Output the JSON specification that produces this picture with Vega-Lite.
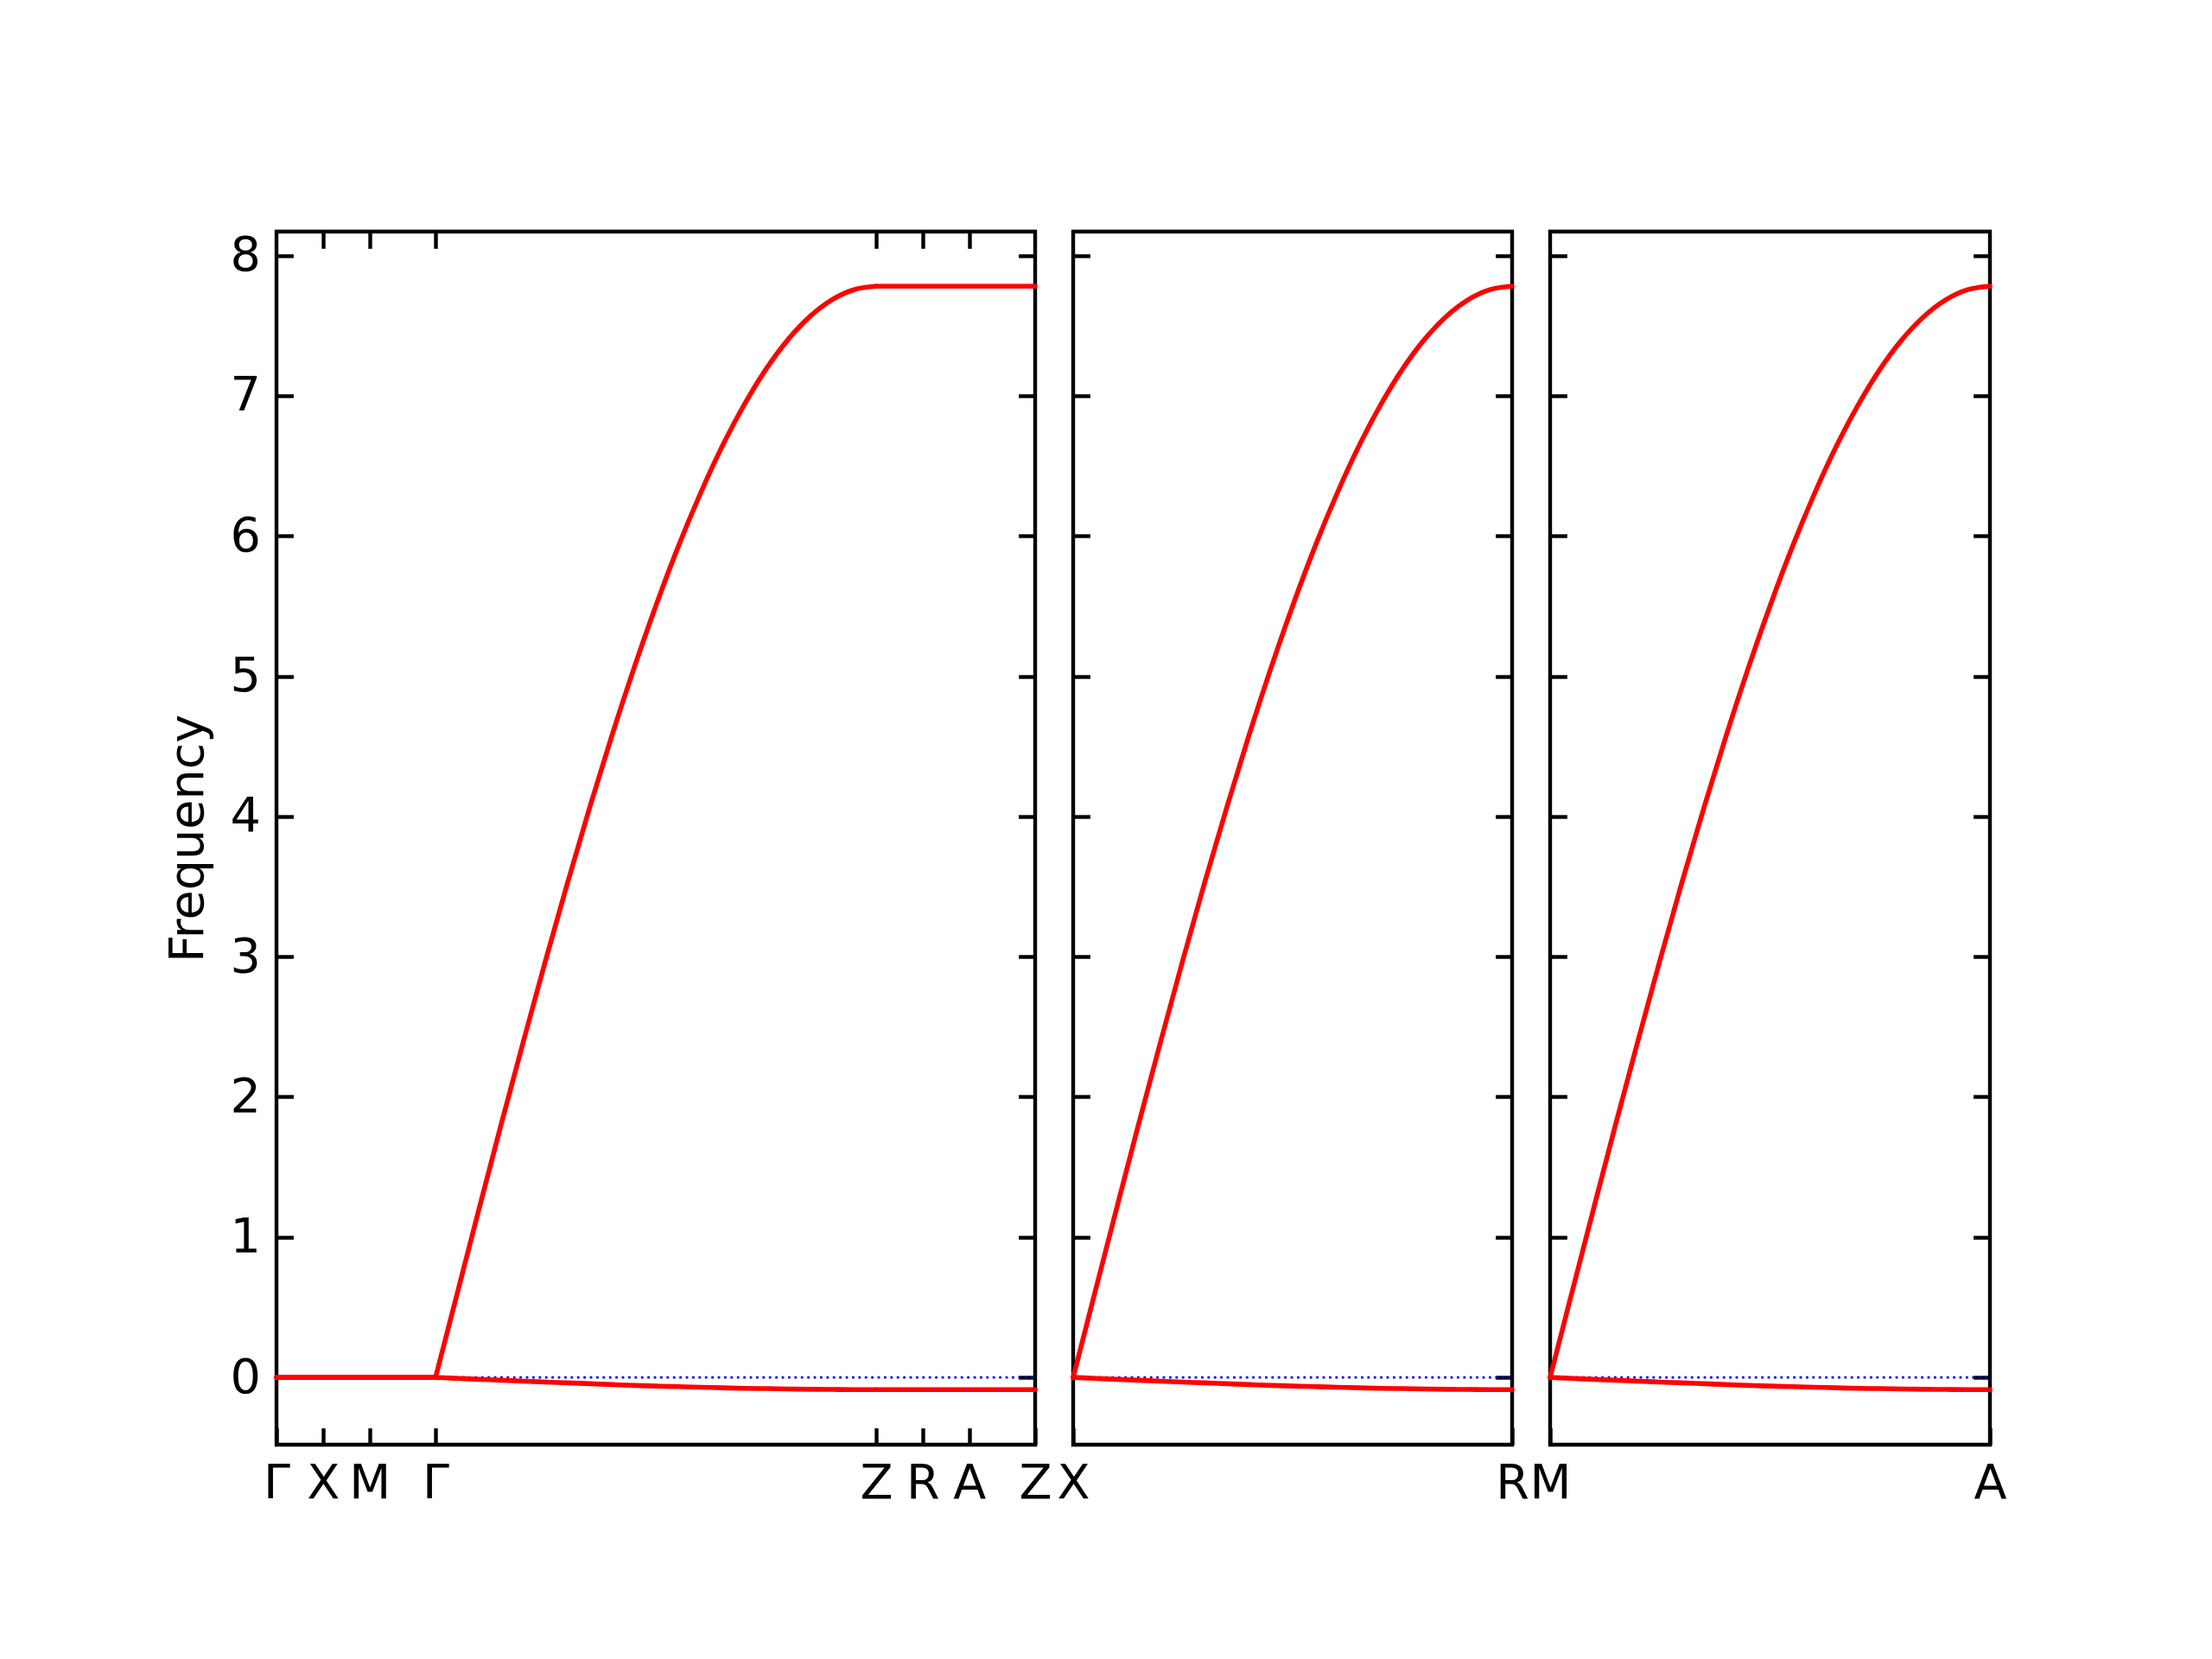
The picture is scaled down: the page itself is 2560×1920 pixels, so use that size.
{
"$schema": "https://vega.github.io/schema/vega-lite/v6.json",
"background": "white",
"padding": {"left": 187, "top": 263, "right": 10, "bottom": 10},
"bounds": "flush",
"spacing": 44,
"datasets": {
"p1": [
{"band":"zero","seg":"all","x":0,"y":0},{"band":"zero","seg":"all","x":8.142,"y":0},
{"band":"upper","seg":"a","x":0,"y":0},{"band":"upper","seg":"a","x":0.5,"y":0},{"band":"upper","seg":"a","x":1.0,"y":0},{"band":"upper","seg":"a","x":1.707,"y":0},
{"band":"upper","seg":"b","x":1.707,"y":0},{"band":"upper","seg":"b","x":1.944,"y":0.610},{"band":"upper","seg":"b","x":2.180,"y":1.217},{"band":"upper","seg":"b","x":2.416,"y":1.816},{"band":"upper","seg":"b","x":2.653,"y":2.404},{"band":"upper","seg":"b","x":2.889,"y":2.977},{"band":"upper","seg":"b","x":3.126,"y":3.532},{"band":"upper","seg":"b","x":3.362,"y":4.065},{"band":"upper","seg":"b","x":3.598,"y":4.573},{"band":"upper","seg":"b","x":3.835,"y":5.053},{"band":"upper","seg":"b","x":4.071,"y":5.501},{"band":"upper","seg":"b","x":4.307,"y":5.916},{"band":"upper","seg":"b","x":4.544,"y":6.294},{"band":"upper","seg":"b","x":4.780,"y":6.634},{"band":"upper","seg":"b","x":5.017,"y":6.932},{"band":"upper","seg":"b","x":5.253,"y":7.188},{"band":"upper","seg":"b","x":5.489,"y":7.399},{"band":"upper","seg":"b","x":5.726,"y":7.565},{"band":"upper","seg":"b","x":5.962,"y":7.684},{"band":"upper","seg":"b","x":6.199,"y":7.756},{"band":"upper","seg":"b","x":6.435,"y":7.780},
{"band":"upper","seg":"c","x":6.435,"y":7.780},{"band":"upper","seg":"c","x":6.935,"y":7.780},{"band":"upper","seg":"c","x":7.435,"y":7.780},{"band":"upper","seg":"c","x":8.142,"y":7.780},
{"band":"lower","seg":"a","x":0,"y":0},{"band":"lower","seg":"a","x":0.5,"y":0},{"band":"lower","seg":"a","x":1.0,"y":0},{"band":"lower","seg":"a","x":1.707,"y":0},
{"band":"lower","seg":"b","x":1.707,"y":0},{"band":"lower","seg":"b","x":1.944,"y":-0.007},{"band":"lower","seg":"b","x":2.180,"y":-0.014},{"band":"lower","seg":"b","x":2.416,"y":-0.020},{"band":"lower","seg":"b","x":2.653,"y":-0.027},{"band":"lower","seg":"b","x":2.889,"y":-0.033},{"band":"lower","seg":"b","x":3.126,"y":-0.039},{"band":"lower","seg":"b","x":3.362,"y":-0.045},{"band":"lower","seg":"b","x":3.598,"y":-0.051},{"band":"lower","seg":"b","x":3.835,"y":-0.057},{"band":"lower","seg":"b","x":4.071,"y":-0.062},{"band":"lower","seg":"b","x":4.307,"y":-0.066},{"band":"lower","seg":"b","x":4.544,"y":-0.070},{"band":"lower","seg":"b","x":4.780,"y":-0.074},{"band":"lower","seg":"b","x":5.017,"y":-0.078},{"band":"lower","seg":"b","x":5.253,"y":-0.080},{"band":"lower","seg":"b","x":5.489,"y":-0.083},{"band":"lower","seg":"b","x":5.726,"y":-0.085},{"band":"lower","seg":"b","x":5.962,"y":-0.086},{"band":"lower","seg":"b","x":6.199,"y":-0.087},{"band":"lower","seg":"b","x":6.435,"y":-0.087},
{"band":"lower","seg":"c","x":6.435,"y":-0.087},{"band":"lower","seg":"c","x":6.935,"y":-0.087},{"band":"lower","seg":"c","x":7.435,"y":-0.087},{"band":"lower","seg":"c","x":8.142,"y":-0.087}
],
"p2": [
{"band":"zero","seg":"all","x":0,"y":0},{"band":"zero","seg":"all","x":4.728,"y":0},
{"band":"upper","seg":"b","x":0,"y":0},{"band":"upper","seg":"b","x":0.236,"y":0.610},{"band":"upper","seg":"b","x":0.473,"y":1.217},{"band":"upper","seg":"b","x":0.709,"y":1.816},{"band":"upper","seg":"b","x":0.946,"y":2.404},{"band":"upper","seg":"b","x":1.182,"y":2.977},{"band":"upper","seg":"b","x":1.418,"y":3.532},{"band":"upper","seg":"b","x":1.655,"y":4.065},{"band":"upper","seg":"b","x":1.891,"y":4.573},{"band":"upper","seg":"b","x":2.128,"y":5.053},{"band":"upper","seg":"b","x":2.364,"y":5.501},{"band":"upper","seg":"b","x":2.600,"y":5.916},{"band":"upper","seg":"b","x":2.837,"y":6.294},{"band":"upper","seg":"b","x":3.073,"y":6.634},{"band":"upper","seg":"b","x":3.310,"y":6.932},{"band":"upper","seg":"b","x":3.546,"y":7.188},{"band":"upper","seg":"b","x":3.782,"y":7.399},{"band":"upper","seg":"b","x":4.019,"y":7.565},{"band":"upper","seg":"b","x":4.255,"y":7.684},{"band":"upper","seg":"b","x":4.492,"y":7.756},{"band":"upper","seg":"b","x":4.728,"y":7.780},
{"band":"lower","seg":"b","x":0,"y":0},{"band":"lower","seg":"b","x":0.236,"y":-0.007},{"band":"lower","seg":"b","x":0.473,"y":-0.014},{"band":"lower","seg":"b","x":0.709,"y":-0.020},{"band":"lower","seg":"b","x":0.946,"y":-0.027},{"band":"lower","seg":"b","x":1.182,"y":-0.033},{"band":"lower","seg":"b","x":1.418,"y":-0.039},{"band":"lower","seg":"b","x":1.655,"y":-0.045},{"band":"lower","seg":"b","x":1.891,"y":-0.051},{"band":"lower","seg":"b","x":2.128,"y":-0.057},{"band":"lower","seg":"b","x":2.364,"y":-0.062},{"band":"lower","seg":"b","x":2.600,"y":-0.066},{"band":"lower","seg":"b","x":2.837,"y":-0.070},{"band":"lower","seg":"b","x":3.073,"y":-0.074},{"band":"lower","seg":"b","x":3.310,"y":-0.078},{"band":"lower","seg":"b","x":3.546,"y":-0.080},{"band":"lower","seg":"b","x":3.782,"y":-0.083},{"band":"lower","seg":"b","x":4.019,"y":-0.085},{"band":"lower","seg":"b","x":4.255,"y":-0.086},{"band":"lower","seg":"b","x":4.492,"y":-0.087},{"band":"lower","seg":"b","x":4.728,"y":-0.087}
]
},
"hconcat": [
{
"width": 878, "height": 1404,
"data": {"name": "p1"},
"layer": [
{"transform": [{"filter": "datum.band === 'zero'"}],
 "mark": {"type": "line", "color": "#0000ff", "strokeWidth": 2.8, "strokeDash": [2.8, 4.6]},
 "encoding": {
  "x": {"field": "x", "type": "quantitative", "scale": {"domain": [0, 8.142], "nice": false, "zero": false},
        "axis": {"orient": "bottom", "values": [0, 0.5, 1.0, 1.707, 6.435, 6.935, 7.435, 8.142], "labelExpr": "datum.value < 0.25 ? 'Γ' : datum.value < 0.75 ? 'X' : datum.value < 1.3 ? 'M' : datum.value < 2 ? 'Γ' : datum.value < 6.6 ? 'Z' : datum.value < 7.1 ? 'R' : datum.value < 7.7 ? 'A' : 'Z'", "title": null, "labelPadding": 37}},
  "y": {"field": "y", "type": "quantitative", "scale": {"domain": [-0.48, 8.17], "nice": false, "zero": false},
        "axis": {"orient": "left", "values": [0,1,2,3,4,5,6,7,8], "title": "Frequency", "labelPadding": 38, "titlePadding": 20}}
 }},
{"transform": [{"filter": "datum.band !== 'zero'"}],
 "mark": {"type": "line", "color": "#ff0000", "strokeWidth": 5.6, "strokeJoin": "round", "strokeCap": "round", "interpolate": "monotone"},
 "encoding": {
  "x": {"field": "x", "type": "quantitative", "scale": {"domain": [0, 8.142], "nice": false, "zero": false},
        "axis": {"orient": "top", "values": [0.5, 1.0, 1.707, 6.435, 6.935, 7.435], "labels": false, "title": null}},
  "y": {"field": "y", "type": "quantitative", "scale": {"domain": [-0.48, 8.17], "nice": false, "zero": false},
        "axis": {"orient": "right", "values": [0,1,2,3,4,5,6,7,8], "labels": false, "title": null}},
  "detail": [{"field": "band"}, {"field": "seg"}]
 }}
],
"resolve": {"axis": {"x": "independent", "y": "independent"}}
},
{
"width": 508, "height": 1404,
"data": {"name": "p2"},
"layer": [
{"transform": [{"filter": "datum.band === 'zero'"}],
 "mark": {"type": "line", "color": "#0000ff", "strokeWidth": 2.8, "strokeDash": [2.8, 4.6]},
 "encoding": {
  "x": {"field": "x", "type": "quantitative", "scale": {"domain": [0, 4.728], "nice": false, "zero": false},
        "axis": {"orient": "bottom", "values": [0, 4.728], "labelExpr": "datum.value < 1 ? 'X' : 'R'", "title": null, "labelPadding": 37}},
  "y": {"field": "y", "type": "quantitative", "scale": {"domain": [-0.48, 8.17], "nice": false, "zero": false},
        "axis": {"orient": "left", "values": [0,1,2,3,4,5,6,7,8], "labels": false, "title": null}}
 }},
{"transform": [{"filter": "datum.band !== 'zero'"}],
 "mark": {"type": "line", "color": "#ff0000", "strokeWidth": 5.6, "strokeJoin": "round", "strokeCap": "round", "interpolate": "monotone"},
 "encoding": {
  "x": {"field": "x", "type": "quantitative", "scale": {"domain": [0, 4.728], "nice": false, "zero": false}, "axis": null},
  "y": {"field": "y", "type": "quantitative", "scale": {"domain": [-0.48, 8.17], "nice": false, "zero": false},
        "axis": {"orient": "right", "values": [0,1,2,3,4,5,6,7,8], "labels": false, "title": null}},
  "detail": [{"field": "band"}, {"field": "seg"}]
 }}
],
"resolve": {"axis": {"x": "independent", "y": "independent"}}
},
{
"width": 509, "height": 1404,
"data": {"name": "p2"},
"layer": [
{"transform": [{"filter": "datum.band === 'zero'"}],
 "mark": {"type": "line", "color": "#0000ff", "strokeWidth": 2.8, "strokeDash": [2.8, 4.6]},
 "encoding": {
  "x": {"field": "x", "type": "quantitative", "scale": {"domain": [0, 4.728], "nice": false, "zero": false},
        "axis": {"orient": "bottom", "values": [0, 4.728], "labelExpr": "datum.value < 1 ? 'M' : 'A'", "title": null, "labelPadding": 37}},
  "y": {"field": "y", "type": "quantitative", "scale": {"domain": [-0.48, 8.17], "nice": false, "zero": false},
        "axis": {"orient": "left", "values": [0,1,2,3,4,5,6,7,8], "labels": false, "title": null}}
 }},
{"transform": [{"filter": "datum.band !== 'zero'"}],
 "mark": {"type": "line", "color": "#ff0000", "strokeWidth": 5.6, "strokeJoin": "round", "strokeCap": "round", "interpolate": "monotone"},
 "encoding": {
  "x": {"field": "x", "type": "quantitative", "scale": {"domain": [0, 4.728], "nice": false, "zero": false}, "axis": null},
  "y": {"field": "y", "type": "quantitative", "scale": {"domain": [-0.48, 8.17], "nice": false, "zero": false},
        "axis": {"orient": "right", "values": [0,1,2,3,4,5,6,7,8], "labels": false, "title": null}},
  "detail": [{"field": "band"}, {"field": "seg"}]
 }}
],
"resolve": {"axis": {"x": "independent", "y": "independent"}}
}
],
"config": {
 "view": {"stroke": "black", "strokeWidth": 4.4},
 "axis": {"domain": false, "grid": false, "ticks": true, "tickSize": -19.4, "tickWidth": 4.4, "tickColor": "black",
   "labelFont": "DejaVu Sans", "labelFontSize": 55.6, "labelColor": "black",
   "titleFont": "DejaVu Sans", "titleFontSize": 55.6, "titleFontWeight": "normal", "titleColor": "black",
   "labelFlush": false, "labelOverlap": false}
}
}
